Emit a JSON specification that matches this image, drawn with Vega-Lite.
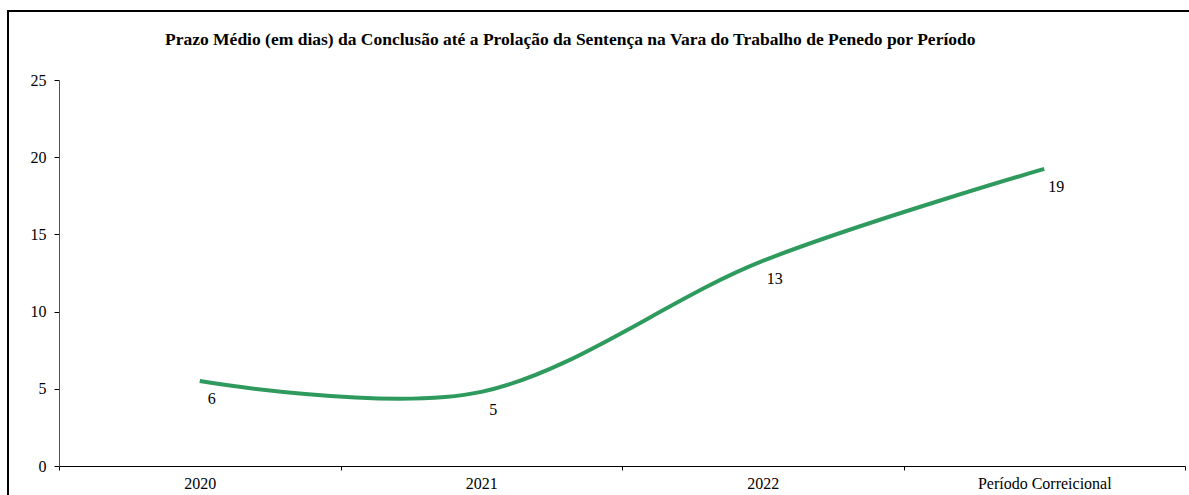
{
  "$schema": "https://vega.github.io/schema/vega-lite/v6.json",
  "autosize": {"type": "none"},
  "padding": {"left": 8, "top": 11, "right": -13, "bottom": -16},
  "width": 1194,
  "height": 500,
  "background": "white",
  "config": {
    "view": {"stroke": "#000000", "strokeWidth": 2},
    "font": "Liberation Serif",
    "title": {"font": "Liberation Serif"}
  },
  "title": {
    "text": "Prazo Médio (em dias) da Conclusão até a Prolação da Sentença na Vara do Trabalho de Penedo por Período",
    "font": "Liberation Serif",
    "fontSize": 17.5,
    "fontWeight": "bold",
    "color": "#000000",
    "anchor": "start",
    "offset": -37,
    "dx": 157
  },
  "data": {
    "values": [
      {"periodo": "2020", "valor": 5.5},
      {"periodo": "2021", "valor": 4.8},
      {"periodo": "2022", "valor": 13.28},
      {"periodo": "Período Correicional", "valor": 19.24}
    ]
  },
  "encoding": {
    "x": {
      "field": "periodo",
      "type": "nominal",
      "sort": null,
      "scale": {"range": [51, 1177], "paddingInner": 0, "paddingOuter": 0},
      "axis": {
        "title": null,
        "offset": -45,
        "labelAngle": 0,
        "labelFont": "Liberation Serif",
        "labelFontSize": 16,
        "labelColor": "#000000",
        "labelPadding": 5,
        "tickBand": "extent",
        "tickSize": 4,
        "tickColor": "#000000",
        "domainColor": "#000000",
        "grid": false
      }
    },
    "y": {
      "field": "valor",
      "type": "quantitative",
      "scale": {"domain": [0, 25], "range": [455, 69], "nice": false},
      "axis": {
        "title": null,
        "offset": -51,
        "values": [0, 5, 10, 15, 20, 25],
        "labelFont": "Liberation Serif",
        "labelFontSize": 16,
        "labelColor": "#000000",
        "labelPadding": 8,
        "tickSize": 5,
        "tickColor": "#000000",
        "domainColor": "#555555",
        "grid": false
      }
    }
  },
  "layer": [
    {
      "mark": {"type": "line", "interpolate": "cardinal", "color": "#2E9A5E", "strokeWidth": 4}
    },
    {
      "mark": {"type": "text", "dx": 12, "dy": 18, "font": "Liberation Serif", "fontSize": 16, "color": "#000000"},
      "encoding": {"text": {"field": "valor", "type": "quantitative", "format": ".0f"}}
    }
  ]
}
